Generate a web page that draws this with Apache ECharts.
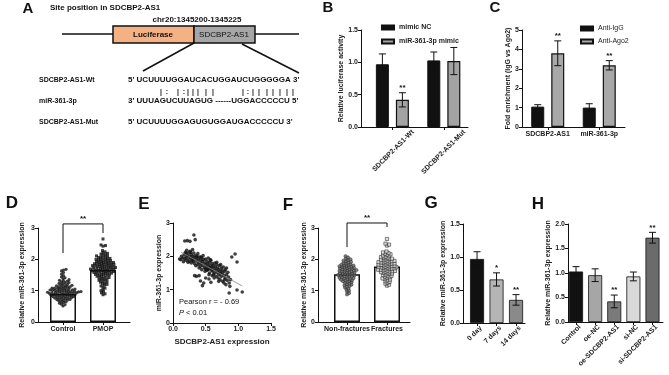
<!DOCTYPE html>
<html>
<head>
<meta charset="utf-8">
<script src="https://cdn.jsdelivr.net/npm/echarts@6.0.0/dist/echarts.min.js"></script>
<style>
html, body { margin: 0; padding: 0; background: #fff; }
#chart { width: 669px; height: 375px; }
</style>
</head>
<body>
<div id="chart"></div>
<script>
var FONT = 'Liberation Sans, Arial, sans-serif';

// B - luciferase
var bCats = ['SDCBP2-AS1-Wt', 'SDCBP2-AS1-Mut'];
var bNC = [0.97, 1.03];
var bNCErr = [0.16, 0.13];
var bMimic = [0.42, 1.02];
var bMimicErr = [0.11, 0.21];
var bStars = ['**', ''];

// C - RIP
var cCats = ['SDCBP2-AS1', 'miR-361-3p'];
var cIgG = [1.05, 1.0];
var cIgGErr = [0.1, 0.2];
var cAgo = [3.8, 3.18];
var cAgoErr = [0.64, 0.24];
var cStars = ['**', '**'];

// D - control vs PMOP
var dCats = ['Control', 'PMOP'];
var dMeans = [0.89, 1.66];
var dControl = [0.51,0.55,0.57,0.6,0.62,0.64,0.66,0.67,0.69,0.7,0.71,0.72,0.73,0.74,0.75,0.76,0.77,0.78,0.78,0.79,
  0.8,0.81,0.81,0.82,0.83,0.84,0.84,0.85,0.86,0.86,0.87,0.88,0.88,0.89,0.9,0.9,0.91,0.91,0.92,0.93,0.93,0.94,0.94,
  0.95,0.95,0.96,0.96,0.97,0.97,0.98,0.98,0.99,1.0,1.0,1.01,1.01,1.02,1.03,1.03,1.04,1.05,1.05,1.06,1.07,1.08,1.08,
  1.09,1.1,1.11,1.12,1.13,1.14,1.15,1.16,1.17,1.19,1.2,1.22,1.23,1.25,1.26,1.28,1.3,1.31,1.33,1.35,1.38,1.41,1.44,
  1.48,1.53,1.58,1.63,1.66,1.68];
var dPMOP = [0.87,0.9,0.93,0.97,1.0,1.04,1.08,1.12,1.15,1.18,1.2,1.23,1.25,1.27,1.29,1.31,1.33,1.35,1.36,1.38,1.39,
  1.41,1.42,1.44,1.45,1.46,1.48,1.49,1.5,1.51,1.52,1.53,1.54,1.55,1.56,1.57,1.58,1.58,1.59,1.6,1.61,1.62,1.62,1.63,
  1.64,1.65,1.65,1.66,1.67,1.68,1.68,1.69,1.7,1.7,1.71,1.72,1.72,1.73,1.74,1.75,1.75,1.76,1.77,1.78,1.78,1.79,1.8,
  1.8,1.81,1.82,1.83,1.83,1.84,1.85,1.86,1.86,1.87,1.88,1.89,1.9,1.9,1.91,1.92,1.93,1.94,1.95,1.96,1.97,1.98,1.99,
  2.0,2.01,2.02,2.03,2.05,2.06,2.07,2.08,2.1,2.11,2.13,2.15,2.17,2.19,2.21,2.24,2.28,2.42,2.44,2.46,2.65];

// E - correlation
var ePoints = [
  [0.1,1.92],[0.12,1.9],[0.13,2.0],[0.15,1.95],[0.16,1.84],[0.17,2.05],[0.18,1.93],[0.19,2.12],[0.2,1.98],[0.2,1.88],
  [0.21,2.18],[0.22,2.02],[0.23,1.92],[0.24,2.1],[0.25,1.85],[0.25,2.0],[0.26,2.15],[0.27,1.95],[0.28,2.05],[0.28,1.8],
  [0.29,1.9],[0.3,2.2],[0.3,2.0],[0.31,1.85],[0.32,1.95],[0.32,2.1],[0.33,1.78],[0.34,2.02],[0.35,1.9],[0.35,1.72],
  [0.18,2.46],[0.22,2.47],[0.26,2.45],[0.32,2.64],[0.34,2.5],
  [0.36,1.98],[0.37,1.85],[0.38,1.75],[0.38,2.08],[0.39,1.92],[0.4,1.8],[0.4,1.65],[0.41,1.98],[0.42,1.88],[0.42,1.7],
  [0.43,1.78],[0.44,1.95],[0.44,1.6],[0.45,1.85],[0.46,1.72],[0.46,2.02],[0.47,1.9],[0.48,1.65],[0.48,1.8],[0.49,1.55],
  [0.5,1.92],[0.5,1.75],[0.51,1.68],[0.52,1.85],[0.52,1.58],[0.53,1.78],[0.54,1.95],[0.54,1.7],[0.55,1.62],[0.56,1.82],
  [0.56,1.5],[0.57,1.72],[0.58,1.88],[0.58,1.65],[0.59,1.58],[0.6,1.78],[0.6,1.68],
  [0.33,1.42],[0.36,1.4],[0.4,1.42],[0.42,1.26],[0.47,1.2],[0.5,1.35],[0.55,1.32],[0.58,1.22],[0.45,1.12],
  [0.61,1.55],[0.62,1.72],[0.62,1.45],[0.63,1.62],[0.64,1.8],[0.64,1.5],[0.65,1.68],[0.66,1.4],[0.66,1.58],[0.67,1.75],
  [0.68,1.52],[0.68,1.65],[0.69,1.35],[0.7,1.6],[0.7,1.45],[0.71,1.72],[0.72,1.55],[0.72,1.3],[0.73,1.48],[0.74,1.65],
  [0.74,1.4],[0.75,1.58],[0.76,1.25],[0.76,1.5],[0.77,1.68],[0.78,1.42],[0.78,1.2],[0.79,1.55],[0.8,1.35],[0.8,1.6],
  [0.81,1.15],[0.82,1.45],[0.83,1.28],[0.84,1.52],[0.85,1.38],[0.86,1.2],[0.87,1.1],
  [0.86,0.9],[0.9,1.98],[0.95,2.07],[0.98,1.83],[0.98,0.99],[1.06,0.93],[0.88,1.3],
  [0.2,2.08],[0.23,1.82],[0.27,2.12],[0.3,1.88],[0.37,2.0],[0.43,1.98],[0.53,1.6],[0.57,1.9],[0.63,1.35],[0.67,1.82],
  [0.7,1.25],[0.73,1.75],[0.79,1.3],[0.82,1.65],[0.6,1.42],[0.5,1.62],[0.55,1.45]
];
var eFit = [[0.12, 2.13], [1.06, 1.11]];

// F - fractures
var fCats = ['Non-fractures', 'Fractures'];
var fMeans = [1.52, 1.77];
var fNon = [0.88,0.92,0.97,1.0,1.04,1.07,1.1,1.13,1.15,1.17,1.19,1.21,1.23,1.25,1.27,1.28,1.3,1.31,1.33,1.34,1.35,
  1.37,1.38,1.39,1.4,1.41,1.42,1.44,1.45,1.46,1.47,1.48,1.49,1.5,1.51,1.52,1.53,1.54,1.55,1.56,1.57,1.58,1.59,1.6,
  1.61,1.62,1.63,1.64,1.65,1.66,1.67,1.68,1.69,1.7,1.71,1.72,1.73,1.74,1.75,1.76,1.77,1.78,1.79,1.8,1.81,1.82,1.83,
  1.85,1.86,1.88,1.9,1.92,1.94,1.96,1.98,2.0,2.03,2.06,2.1];
var fFrac = [1.16,1.19,1.22,1.25,1.28,1.3,1.33,1.35,1.37,1.39,1.41,1.43,1.45,1.47,1.48,1.5,1.52,1.53,1.55,1.56,1.57,
  1.59,1.6,1.61,1.62,1.63,1.64,1.65,1.66,1.67,1.68,1.69,1.7,1.71,1.72,1.73,1.74,1.75,1.75,1.76,1.77,1.78,1.79,1.8,
  1.81,1.82,1.83,1.84,1.85,1.86,1.87,1.88,1.89,1.9,1.91,1.92,1.93,1.94,1.95,1.96,1.97,1.98,2.0,2.01,2.02,2.04,2.05,
  2.07,2.08,2.1,2.12,2.14,2.16,2.18,2.2,2.22,2.25,2.44,2.47,2.5,2.65];

// G - time course
var gCats = ['0 day', '7 days', '14 days'];
var gVals = [0.97, 0.66, 0.35];
var gErr = [0.11, 0.1, 0.08];
var gStars = ['', '*', '**'];

// H - oe / si
var hCats = ['Control', 'oe-NC', 'oe-SDCBP2-AS1', 'si-NC', 'si-SDCBP2-AS1'];
var hVals = [1.03, 0.955, 0.42, 0.93, 1.72];
var hErr = [0.1, 0.13, 0.13, 0.09, 0.11];
var hStars = ['', '', '**', '', '**'];

// 顺序摆放散点（类似 GraphPad 的蜂群图）
function swarm(vals, center, pxX, pxY, d) {
    var sorted = vals.slice().sort(function (a, b) { return a - b; });
    var placed = [];
    var out = [];
    sorted.forEach(function (v) {
        var py = v * pxY;
        var dx = 0;
        for (var s = 0; s < 400; s++) {
            dx = s === 0 ? 0 : (s % 2 === 1 ? (s + 1) / 2 : -s / 2) * 0.5;
            var hit = false;
            for (var j = 0; j < placed.length; j++) {
                var p = placed[j];
                if (Math.abs(p[1] - py) < d && Math.hypot(p[0] - dx, p[1] - py) < d) { hit = true; break; }
            }
            if (!hit) break;
        }
        placed.push([dx, py]);
        out.push([center + dx / pxX, v]);
    });
    return out;
}

var txt = { fontFamily: FONT, fontSize: 7, fontWeight: 'bold', color: '#222' };

function yAx(gi, max, interval, dec, name, gap) {
    return {
        type: 'value', gridIndex: gi, min: 0, max: max, interval: interval,
        name: name, nameLocation: 'middle', nameGap: gap,
        nameTextStyle: { fontFamily: FONT, fontSize: 7, fontWeight: 'bold', color: '#222' },
        axisLine: { show: true, lineStyle: { color: '#111', width: 1 } },
        axisTick: { show: true, length: 3, lineStyle: { color: '#111' } },
        splitLine: { show: false },
        axisLabel: Object.assign({ margin: 3, formatter: function (v) { return v.toFixed(dec); } }, txt)
    };
}

function xVal(gi, min, max, cats, rotate, shift) {
    var ticks = cats.map(function (c, i) { return i + 1; });
    return {
        type: 'value', gridIndex: gi, min: min, max: max,
        axisLine: { show: true, lineStyle: { color: '#111', width: 1 } },
        axisTick: { show: true, length: 3, customValues: ticks, lineStyle: { color: '#111' } },
        splitLine: { show: false },
        axisLabel: Object.assign({
            margin: 4, rotate: rotate,
            customValues: ticks.map(function (t) { return t + shift; }),
            formatter: function (v) { return cats[Math.round(v - shift) - 1]; }
        }, txt)
    };
}

function errBars(xi, yi, xs, means, errs, stars, offset) {
    return {
        type: 'custom', xAxisIndex: xi, yAxisIndex: yi, z: 5, silent: true,
        data: means.map(function (m, i) { return [xs[i], m, errs[i]]; }),
        encode: { x: 0, y: 1 },
        renderItem: function (params, api) {
            var x = api.value(0), m = api.value(1), e = api.value(2);
            var top = api.coord([x, m + e]), bot = api.coord([x, m - e]);
            var cx = top[0] + offset;
            var st = { stroke: '#111', lineWidth: 1 };
            var ch = [
                { type: 'line', shape: { x1: cx, y1: top[1], x2: cx, y2: bot[1] }, style: st },
                { type: 'line', shape: { x1: cx - 3.5, y1: top[1], x2: cx + 3.5, y2: top[1] }, style: st },
                { type: 'line', shape: { x1: cx - 3.5, y1: bot[1], x2: cx + 3.5, y2: bot[1] }, style: st }
            ];
            var s = stars[params.dataIndex];
            if (s) {
                ch.push({ type: 'text', style: { text: s, x: cx, y: top[1] - 1, align: 'center', verticalAlign: 'bottom',
                    fontSize: 8, fontWeight: 'bold', fontFamily: FONT, fill: '#111' } });
            }
            return { type: 'group', children: ch };
        }
    };
}

// 显著性括号: [x1, y1, yTop, x2, y2]
function bracket(xi, yi, spec) {
    return {
        type: 'custom', xAxisIndex: xi, yAxisIndex: yi, z: 5, silent: true,
        data: [spec], encode: { x: [0, 3], y: [1, 2, 4] },
        renderItem: function (params, api) {
            var a = api.coord([api.value(0), api.value(1)]);
            var b = api.coord([api.value(0), api.value(2)]);
            var c = api.coord([api.value(3), api.value(2)]);
            var d = api.coord([api.value(3), api.value(4)]);
            return { type: 'group', children: [
                { type: 'polyline', shape: { points: [a, b, c, d] }, style: { stroke: '#111', lineWidth: 1, fill: null } },
                { type: 'text', style: { text: '**', x: (b[0] + c[0]) / 2, y: b[1] - 1, align: 'center', verticalAlign: 'bottom',
                    fontSize: 8, fontWeight: 'bold', fontFamily: FONT, fill: '#111' } }
            ] };
        }
    };
}

function toXY(vals) { return vals.map(function (v, i) { return [i + 1, v]; }); }
function colored(vals, colors) {
    return vals.map(function (v, i) {
        return { value: [i + 1, v], itemStyle: { color: colors[i] } };
    });
}

var gColors = ['#111111', '#b5b5b5', '#8a8a8a'];
var hColors = ['#111111', '#a6a6a6', '#7a7a7a', '#d9d9d9', '#6b6b6b'];

var pmopPts = swarm(dPMOP, 2, 40, 94 / 3, 2.2);
var ctrlPts = swarm(dControl, 1, 40, 94 / 3, 2.2);
var nonPts = swarm(fNon, 1, 40, 94 / 3, 2.2);
var fracPts = swarm(fFrac, 2, 40, 94 / 3, 2.2);

function letter(t, x, y, size) {
    return { type: 'text', style: { text: t, x: x, y: y, align: 'center', verticalAlign: 'middle',
        fontSize: size, fontWeight: 'bold', fontFamily: FONT, fill: '#111' } };
}
function label(t, x, y, size, weight, align) {
    return { type: 'text', style: { text: t, x: x, y: y, align: align || 'left', verticalAlign: 'middle',
        fontSize: size, fontWeight: weight, fontFamily: FONT, fill: '#111' } };
}

var pipeMarks = [[161, '|'], [167, ':'], [178, '|'], [184, ':'], [188, '|'], [193, '|'], [198, '|'], [206, '|'], [213, '|'],
    [243, '|'], [248, ':'], [253, '|'], [259, '|'], [267, '|'], [273, '|'], [280, '|'], [287, '|'], [293, '|']];

var graphic = [
    letter('A', 28, 9, 15), letter('B', 328, 8, 15), letter('C', 495, 8, 15),
    letter('D', 12, 203, 17), letter('E', 144, 204, 17), letter('F', 288, 205, 17),
    letter('G', 431, 203, 17), letter('H', 538, 204, 17),
    label('Site position in SDCBP2-AS1', 50, 8, 8, 'bold'),
    label('chr20:1345200-1345225', 197, 20, 8, 'bold', 'center'),
    { type: 'line', shape: { x1: 62, y1: 34, x2: 299, y2: 34 }, style: { stroke: '#111', lineWidth: 1.5 } },
    { type: 'rect', shape: { x: 113, y: 26, width: 81, height: 17 }, style: { fill: '#f4b183', stroke: '#111', lineWidth: 1.5 } },
    { type: 'rect', shape: { x: 194, y: 26, width: 61, height: 17 }, style: { fill: '#a6a6a6', stroke: '#111', lineWidth: 1.5 } },
    label('Luciferase', 153, 34.5, 8, 'bold', 'center'),
    label('SDCBP2-AS1', 224, 34.5, 8, 'normal', 'center'),
    { type: 'line', shape: { x1: 194, y1: 43, x2: 143, y2: 71 }, style: { stroke: '#111', lineWidth: 1.5 } },
    { type: 'line', shape: { x1: 242, y1: 44, x2: 299, y2: 73 }, style: { stroke: '#111', lineWidth: 1.5 } },
    label('SDCBP2-AS1-Wt', 39, 80, 7, 'bold'),
    label('miR-361-3p', 39, 101, 7, 'bold'),
    label('SDCBP2-AS1-Mut', 39, 122, 7, 'bold'),
    label("5' UCUUUUGGAUCACUGGAUCUGGGGGA 3'", 128, 80, 8, 'bold'),
    label("3' UUUAGUCUUAGUG ------UGGACCCCCU 5'", 128, 101, 8, 'bold'),
    label("5' UCUUUUGGAGUGUGGAUGACCCCCU 3'", 128, 122, 8, 'bold'),
    label('Pearson r = - 0.69', 179, 302, 7.5, 'normal'),
    { type: 'text', style: { text: '{i|P} < 0.01', x: 179, y: 313, verticalAlign: 'middle', fontSize: 7.5,
        fontFamily: FONT, fill: '#111', rich: { i: { fontStyle: 'italic', fontSize: 7.5, fontFamily: FONT } } } }
];
pipeMarks.forEach(function (p) { graphic.push(label(p[1], p[0], 92, 7, 'bold', 'center')); });

var option = {
    animation: false,
    backgroundColor: '#fff',
    graphic: graphic,
    legend: [{
        data: ['mimic NC', 'miR-361-3p mimic'], orient: 'vertical', left: 376, top: 19,
        itemWidth: 12, itemHeight: 4, itemGap: 7, icon: 'rect', selectedMode: false,
        textStyle: { fontFamily: FONT, fontSize: 7, fontWeight: 'bold', color: '#222' }
    }, {
        data: ['Anti-IgG', 'Anti-Ago2'], orient: 'vertical', left: 575, top: 20,
        itemWidth: 12, itemHeight: 4, itemGap: 6, icon: 'rect', selectedMode: false,
        textStyle: { fontFamily: FONT, fontSize: 7, color: '#222' }
    }],
    grid: [
        { left: 361, top: 30, width: 107, height: 97 },
        { left: 522, top: 30, width: 103, height: 97 },
        { left: 38, top: 228, width: 92, height: 94 },
        { left: 173, top: 223, width: 98, height: 100 },
        { left: 318, top: 228, width: 92, height: 94 },
        { left: 463, top: 224, width: 62, height: 99 },
        { left: 568, top: 224, width: 95, height: 98 }
    ],
    xAxis: [
        xVal(0, 0.39, 2.47, bCats, 45, 0.4),
        {
            type: 'category', gridIndex: 1, data: cCats,
            axisLine: { show: true, lineStyle: { color: '#111' } },
            axisTick: { show: true, alignWithLabel: true, length: 3, lineStyle: { color: '#111' } },
            axisLabel: Object.assign({ margin: 4, interval: 0 }, txt)
        },
        xVal(2, 0.375, 2.675, dCats, 0, 0),
        {
            type: 'value', gridIndex: 3, min: 0, max: 1.5, interval: 0.5,
            name: 'SDCBP2-AS1 expression', nameLocation: 'middle', nameGap: 15,
            nameTextStyle: { fontFamily: FONT, fontSize: 8, fontWeight: 'bold', color: '#222' },
            axisLine: { show: true, lineStyle: { color: '#111' } },
            axisTick: { show: true, length: 3, lineStyle: { color: '#111' } },
            splitLine: { show: false },
            axisLabel: Object.assign({ margin: 3, formatter: function (v) { return v.toFixed(1); } }, txt)
        },
        xVal(4, 0.275, 2.575, fCats, 0, 0),
        xVal(5, 0.28, 3.46, gCats, 45, 0.2),
        xVal(6, 0.58, 5.55, hCats, 45, 0.2)
    ],
    yAxis: [
        yAx(0, 1.5, 0.5, 1, 'Relative luciferase activity', 11),
        yAx(1, 5, 1, 0, 'Fold enrichment (IgG vs Ago2)', 9),
        yAx(2, 3, 1, 0, 'Relative miR-361-3p expression', 12),
        yAx(3, 3, 1, 0, 'miR-361-3p expression', 10),
        yAx(4, 3, 1, 0, 'Relative miR-361-3p expression', 10),
        yAx(5, 1.5, 0.5, 1, 'Relative miR-361-3p expression', 14),
        yAx(6, 2, 0.5, 1, 'Relative miR-361-3p expression', 14)
    ],
    series: [
        // B
        { name: 'mimic NC', type: 'bar', xAxisIndex: 0, yAxisIndex: 0, data: toXY(bNC), barWidth: 13, barGap: '54%',
          itemStyle: { color: '#111', borderColor: '#111', borderWidth: 1 } },
        { name: 'miR-361-3p mimic', type: 'bar', xAxisIndex: 0, yAxisIndex: 0, data: toXY(bMimic), barWidth: 13,
          itemStyle: { color: '#a3a3a3', borderColor: '#111', borderWidth: 1.2 } },
        errBars(0, 0, [1, 2], bNC, bNCErr, ['', ''], -10),
        errBars(0, 0, [1, 2], bMimic, bMimicErr, bStars, 10),
        // C
        { name: 'Anti-IgG', type: 'bar', xAxisIndex: 1, yAxisIndex: 1, data: cIgG, barWidth: 13, barGap: '54%',
          itemStyle: { color: '#111', borderColor: '#111', borderWidth: 1 } },
        { name: 'Anti-Ago2', type: 'bar', xAxisIndex: 1, yAxisIndex: 1, data: cAgo, barWidth: 13,
          itemStyle: { color: '#a8a8a8', borderColor: '#111', borderWidth: 1.2 } },
        errBars(1, 1, [0, 1], cIgG, cIgGErr, ['', ''], -10),
        errBars(1, 1, [0, 1], cAgo, cAgoErr, cStars, 10),
        // D
        { type: 'bar', xAxisIndex: 2, yAxisIndex: 2, data: toXY(dMeans), barWidth: 26, z: 2,
          itemStyle: { color: '#fff', borderColor: '#111', borderWidth: 1.5 } },
        { type: 'scatter', xAxisIndex: 2, yAxisIndex: 2, data: ctrlPts, symbolSize: 3.2, z: 3,
          itemStyle: { color: '#111' } },
        { type: 'scatter', xAxisIndex: 2, yAxisIndex: 2, data: pmopPts, symbol: 'rect', symbolSize: 3, z: 3,
          itemStyle: { color: '#111' } },
        bracket(2, 2, [1, 2.2, 3.13, 2, 2.84]),
        // E
        { type: 'scatter', xAxisIndex: 3, yAxisIndex: 3, data: ePoints, symbolSize: 3.6, z: 3,
          itemStyle: { color: '#111' } },
        { type: 'line', xAxisIndex: 3, yAxisIndex: 3, data: eFit, symbol: 'none', z: 4,
          lineStyle: { color: '#888', width: 0.8 } },
        // F
        { type: 'bar', xAxisIndex: 4, yAxisIndex: 4, data: toXY(fMeans), barWidth: 26, z: 2,
          itemStyle: { color: '#fff', borderColor: '#111', borderWidth: 1.5 } },
        { type: 'scatter', xAxisIndex: 4, yAxisIndex: 4, data: nonPts, symbolSize: 3.2, z: 3,
          itemStyle: { color: '#666', borderColor: '#222', borderWidth: 0.6 } },
        { type: 'scatter', xAxisIndex: 4, yAxisIndex: 4, data: fracPts, symbol: 'rect', symbolSize: 3.2, z: 3,
          itemStyle: { color: '#ddd', borderColor: '#222', borderWidth: 0.7 } },
        bracket(4, 4, [1, 2.39, 3.16, 2, 3.03]),
        // G
        { type: 'bar', xAxisIndex: 5, yAxisIndex: 5, data: colored(gVals, gColors), barWidth: 14,
          itemStyle: { borderColor: '#111', borderWidth: 0.8 } },
        errBars(5, 5, [1, 2, 3], gVals, gErr, gStars, 0),
        // H
        { type: 'bar', xAxisIndex: 6, yAxisIndex: 6, data: colored(hVals, hColors), barWidth: 14,
          itemStyle: { borderColor: '#111', borderWidth: 0.8 } },
        errBars(6, 6, [1, 2, 3, 4, 5], hVals, hErr, hStars, 0)
    ]
};

var myChart = echarts.init(document.getElementById('chart'));
myChart.setOption(option);
</script>
</body>
</html>
